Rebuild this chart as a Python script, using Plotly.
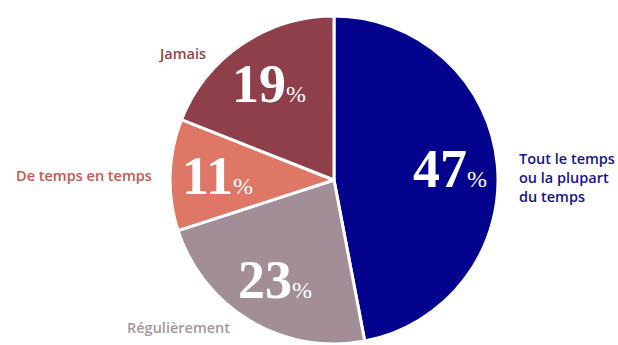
import math
import plotly.graph_objects as go

# Survey answers, clockwise from 12 o'clock
categories = ["Tout le temps<br>ou la plupart<br>du temps", "Régulièrement", "De temps en temps", "Jamais"]
values = [47, 23, 11, 19]
slice_colors = ["#03038e", "#a38e98", "#df7767", "#8f3f4a"]
label_colors = ["#15158a", "#a3979d", "#c6584f", "#9c3c45"]

W, H = 618, 345
cx, cy, R = 334, 180, 164  # pie centre and radius in pixels

fig = go.Figure(go.Pie(
    labels=categories,
    values=values,
    sort=False,
    direction="clockwise",
    rotation=0,
    textinfo="none",
    hoverinfo="label+percent",
    marker=dict(colors=slice_colors, line=dict(color="white", width=3)),
    domain=dict(x=[(cx - R) / W, (cx + R) / W], y=[(H - cy - R) / H, (H - cy + R) / H]),
    showlegend=False,
))

# Percentage labels placed at each slice's mid-angle
total = sum(values)
acc = 0
for v in values:
    mid = (acc + v / 2) / total * 2 * math.pi
    acc += v
    px = cx + 0.71 * R * math.sin(mid)
    py = cy - 0.71 * R * math.cos(mid)
    fig.add_annotation(
        x=px / W, y=1 - py / H, xref="paper", yref="paper",
        text=f"<b>{v}</b><span style='font-size:24px;font-weight:normal'>%</span>",
        showarrow=False,
        font=dict(family="Liberation Serif", size=54, color="white"),
        xanchor="center", yanchor="middle",
    )

# Category names beside the pie
label_pos = [
    (517, 177, "left"),
    (178, 327, "center"),
    (84, 175, "center"),
    (182, 53, "center"),
]
for name, col, (lx, ly, anchor) in zip(categories, label_colors, label_pos):
    fig.add_annotation(
        x=lx / W, y=1 - ly / H, xref="paper", yref="paper",
        text=name, showarrow=False, align="left",
        font=dict(family="Open Sans", size=14.5, color=col, weight=600),
        xanchor=anchor, yanchor="middle",
    )

fig.update_layout(
    width=W, height=H,
    margin=dict(l=0, r=0, t=0, b=0),
    paper_bgcolor="white", plot_bgcolor="white",
)

fig.write_html("out.html")
